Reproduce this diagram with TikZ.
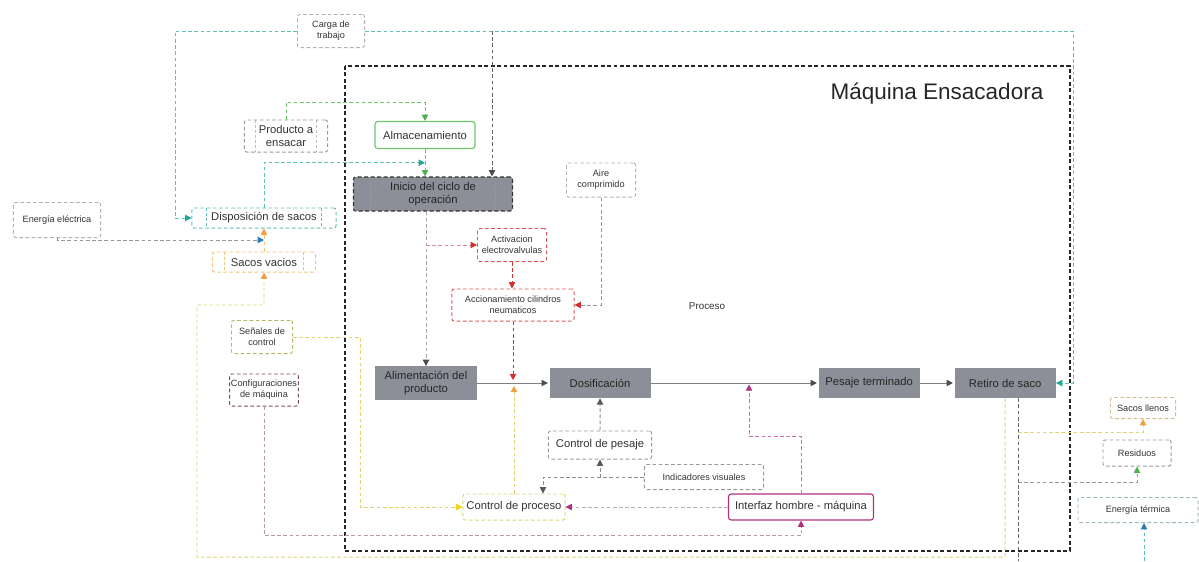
\documentclass[tikz,border=0pt]{standalone}
\usepackage{fontspec}
\setmainfont{Liberation Sans}
\usetikzlibrary{shapes,arrows.meta,calc}

\definecolor{procgray}{HTML}{8C8F98}
\definecolor{txt}{HTML}{333333}
\definecolor{cteal}{HTML}{1FA896}
\definecolor{lteal}{HTML}{5FBFB3}
\definecolor{cgreen}{HTML}{4CAF50}
\definecolor{lgreen}{HTML}{6CC46C}
\definecolor{cred}{HTML}{D32F2F}
\definecolor{lpink}{HTML}{E08A95}
\definecolor{cmag}{HTML}{B0307F}
\definecolor{lmag}{HTML}{D070A8}
\definecolor{corange}{HTML}{F0A040}
\definecolor{lorange}{HTML}{EEC57A}
\definecolor{cyellow}{HTML}{F2D21B}
\definecolor{lyellow}{HTML}{DDD672}
\definecolor{cblue}{HTML}{2C7BB6}
\definecolor{ldred}{HTML}{7A4A55}

\tikzstyle{block} = [rectangle, fill=procgray, text=black!85, align=center,
    minimum width=2.525cm, minimum height=0.75cm, font=\fontsize{8}{9.5}\selectfont]
\tikzstyle{dbox} = [rectangle, draw, dash pattern=on 2.6pt off 1.8pt, line width=0.7pt,
    rounded corners=1.5pt, align=center, inner sep=1pt, text=txt,
    font=\fontsize{6.5}{7.8}\selectfont]
\tikzstyle{dboxl} = [dbox, font=\fontsize{8}{9.5}\selectfont]
\tikzstyle{sbox} = [rectangle, draw, line width=0.8pt, rounded corners=2pt,
    align=center, text=txt, font=\fontsize{8}{9.5}\selectfont]
\tikzstyle{titulo} = [text=black!85, font=\fontsize{16}{19}\selectfont]
\tikzstyle{texto} = [text=txt, font=\fontsize{7}{8}\selectfont]
\tikzstyle{line} = [draw, dash pattern=on 2.6pt off 1.8pt, line width=0.7pt]
\tikzstyle{flujo} = [draw, line width=0.7pt, black!50]
\tikzstyle{marco} = [draw=black!85, dash pattern=on 2.8pt off 1.8pt, line width=0.8pt]
\tikzset{
  tip/.style={-{Triangle[length=4.5pt,width=4.5pt,color=#1]}},
  doble/.style 2 args={path picture={
    \draw[dash pattern=on 2pt off 1.6pt, line width=0.5pt, #1]
      ([xshift=#2]path picture bounding box.north west) --
      ([xshift=#2]path picture bounding box.south west)
      ([xshift=-#2]path picture bounding box.north east) --
      ([xshift=-#2]path picture bounding box.south east);}}
}

\begin{document}
\begin{tikzpicture}[x=0.025cm, y=-0.025cm, node distance=4.35cm]
    \useasboundingbox (0,0) rectangle (1199,561);

    % Place nodes
    \draw [marco] (345,66) rectangle (1070,551);
    \node [titulo] (titulo) at (937,94) {Máquina Ensacadora};
    \node [dbox, draw=black!30, minimum width=1.675cm, minimum height=0.825cm] (carga) at (331,31) {Carga de\\trabajo};
    \node [dboxl, draw=black!40, doble={black!25}{0.27cm}, minimum width=2.075cm, minimum height=0.8cm] (producto) at (286,136) {Producto a\\ensacar};
    \node [sbox, draw=lgreen, minimum width=2.5cm, minimum height=0.675cm] (almacen) at (425,135) {Almacenamiento};
    \node [block, draw=black!80, dash pattern=on 2.8pt off 1.8pt, line width=0.8pt, rounded corners=1.5pt,
        doble={black!40}{0.42cm}, minimum width=3.975cm, minimum height=0.85cm] (inicio) at (433,194) {Inicio del ciclo de\\operación};
    \node [dbox, draw=black!30, minimum width=1.725cm, minimum height=0.85cm] (aire) at (601,180) {Aire\\comprimido};
    \node [dbox, draw=cred!80, minimum width=1.725cm, minimum height=0.825cm] (activa) at (512,245) {Activacion\\electrovalvulas};
    \node [dbox, draw=cred!80, minimum width=3.05cm, minimum height=0.8cm] (acciona) at (513,305) {Accionamiento cilindros\\neumaticos};
    \node [texto] (proceso) at (707,306) {Proceso};
    \node [dbox, draw=black!30, minimum width=2.175cm, minimum height=0.875cm] (energiael) at (57,220) {Energía eléctrica};
    \node [dboxl, draw=lteal, doble={lteal}{0.37cm}, minimum width=3.6cm, minimum height=0.5cm] (disposicion) at (264,218) {Disposición de sacos};
    \node [dboxl, draw=lorange, doble={lorange}{0.3cm}, minimum width=2.575cm, minimum height=0.5cm] (vacios) at (264,262) {Sacos vacios};
    \node [dbox, draw=lyellow!80!black!90, minimum width=1.525cm, minimum height=0.825cm] (senales) at (262,337) {Señales de\\control};
    \node [dbox, draw=ldred, minimum width=1.675cm, minimum height=0.8cm] (config) at (264,390) {Configuraciones\\de máquina};

    \node [block] (alimenta) at (426,383) {Alimentación del\\producto};
    \node [block, right of=alimenta] (dosifica) {Dosificación};
    \node [block, right of=dosifica, node distance=6.725cm] (pesaje) {Pesaje terminado};
    \node [block, right of=pesaje, node distance=3.4cm] (retiro) {Retiro de saco};

    \node [dboxl, draw=black!40, minimum width=2.575cm, minimum height=0.7cm] (ctrlpesaje) at (600,445) {Control de pesaje};
    \node [dbox, draw=black!40, minimum width=2.975cm, minimum height=0.625cm] (indicadores) at (704,477) {Indicadores visuales};
    \node [dboxl, draw=lyellow, minimum width=2.55cm, minimum height=0.65cm] (ctrlproceso) at (514,507) {Control de proceso};
    \node [sbox, draw=cmag, minimum width=3.625cm, minimum height=0.65cm] (interfaz) at (801,507) {Interfaz hombre - máquina};
    \node [dbox, draw=lorange!80!black!70, minimum width=1.625cm, minimum height=0.525cm] (llenos) at (1143,408) {Sacos llenos};
    \node [dbox, draw=black!40, minimum width=1.7cm, minimum height=0.65cm] (residuos) at (1137,453) {Residuos};
    \node [dbox, draw=lteal!60!black!50, minimum width=3.0cm, minimum height=0.625cm] (termica) at (1138,510) {Energía térmica};

    % Draw edges
    \path [line, lteal, tip=cteal] (carga.west) -- (175,31) |- (disposicion.west);
    \path [line, lteal, tip=cteal] (carga.east) -- (1073,31) |- (retiro.east);
    \coordinate (ramal) at (492,31);
    \path [line, black!60, tip=black!70] (ramal) -- (ramal |- inicio.north);
    \path [line, lgreen, tip=cgreen] (producto.north) -- ++(0,-17) -| (almacen.north);
    \path [line, lgreen, tip=cgreen] (almacen.south) -- (almacen.south |- inicio.north);
    \coordinate (entrada) at ($(almacen.south)!0.5!(almacen.south |- inicio.north)$);
    \path [line, lteal, tip=cteal] (disposicion.north) |- (entrada);
    \coordinate (union) at ($(disposicion.south)!0.5!(vacios.north)$);
    \path [line, black!40, tip=cblue] (energiael.south) |- (union);
    \path [line, lorange, tip=corange] (vacios.north) -- (disposicion.south);
    \path [line, lyellow, tip=corange] (retiro.south) -- (1005,557) -| (197,305) -| (vacios.south);
    \path [line, lyellow, tip=cyellow] (senales.east) -- (360,337) |- (ctrlproceso.west);
    \path [line, black!35, tip=black!70] (alimenta.north |- inicio.south) -- (alimenta.north);
    \path [line, lpink, tip=cred] (alimenta.north |- activa.west) -- (activa.west);
    \path [line, cred, tip=cred] (activa.south) -- (activa.south |- acciona.north);
    \path [line, black!40, tip=cred] (aire.south) |- (acciona.east);
    \path [line, cred, tip=cred, shorten >=2pt] (acciona.south) -- (acciona.south |- alimenta.east);
    \path [flujo, tip=black!70, shorten >=1pt] (alimenta) -- (dosifica);
    \path [line, lyellow, tip=corange, shorten >=2pt] (ctrlproceso.north) -- (ctrlproceso.north |- alimenta.east);
    \path [flujo, tip=black!70, shorten >=1pt] (dosifica) -- (pesaje);
    \coordinate (hmi) at (749,383);
    \path [line, lmag, tip=cmag, shorten >=1pt] (interfaz.north) -- ++(0,-57) -| (hmi);
    \path [line, black!30, tip=cmag] (interfaz.west) -- (ctrlproceso.east);
    \path [line, black!45, tip=black!65] (ctrlpesaje.north) -- (dosifica.south);
    \path [line, black!45, tip=black!65] (indicadores.west) -| (ctrlpesaje.south);
    \path [line, black!45, tip=black!65] (indicadores.west) -| ($(ctrlproceso.north)+(29,0)$);
    \path [line, lmag!60!black!55, tip=cmag] (config.south) |- ($(interfaz.south)+(0,15)$) -- (interfaz.south);
    \path [flujo, tip=black!70, shorten >=1pt] (pesaje) -- (retiro);
    \coordinate (salida) at (1018,561);
    \coordinate (b1) at (1018,432);
    \coordinate (b2) at (1018,482);
    \path [line, black!60] (retiro.south -| salida) -- (salida);
    \path [line, lyellow, tip=corange] (b1) -| (llenos.south);
    \path [line, black!40, tip=cgreen] (b2) -| (residuos.south);
    \coordinate (fuente) at (1144,561);
    \path [line, lteal, tip=cblue] (fuente) -- (fuente |- termica.south);
\end{tikzpicture}
\end{document}
